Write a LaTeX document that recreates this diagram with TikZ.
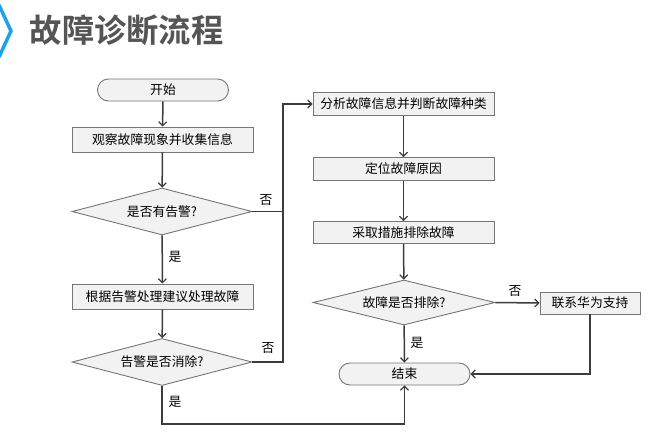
\documentclass[tikz,border=0pt]{standalone}
\usepackage{fontspec}
\newfontfamily\cjk{Noto Sans CJK SC}
\newfontfamily\cjkbold{Noto Sans CJK SC Bold}
\usetikzlibrary{shapes.geometric,shapes.misc,arrows.meta}
\definecolor{boxfill}{HTML}{F2F2F2}
\definecolor{boxline}{HTML}{767676}
\definecolor{conn}{HTML}{3C3C3C}
\definecolor{titleblue}{HTML}{1AA3E8}
\definecolor{titlegray}{HTML}{555555}
\begin{document}
\begin{tikzpicture}[x=1pt,y=-1pt,
  every node/.style={font=\cjk\fontsize{12.8}{14}\selectfont, text=black},
  procbox/.style={rectangle, draw=boxline, fill=boxfill, line width=0.9pt, inner sep=0pt, minimum width=181pt, minimum height=25pt},
  decbox/.style={diamond, draw=boxline, fill=boxfill, line width=0.9pt, inner sep=0pt, aspect=3.8, minimum width=180pt, minimum height=47pt},
  termbox/.style={rounded rectangle, draw=boxline, fill=boxfill, line width=0.9pt, inner sep=0pt, minimum width=131pt, minimum height=22pt},
  lbl/.style={inner sep=0pt},
  conline/.style={draw=conn, line width=1.5pt},
  arr/.style={conline, -{Straight Barb[length=4pt,width=8pt,line width=1.2pt]}}
]
\useasboundingbox (0,0) rectangle (647,445);
% title
\draw[titleblue, line width=3.5pt] (-1,5) -- (11,31) -- (-1,57);
\node[anchor=west, inner sep=0pt, text=titlegray, font=\cjkbold\fontsize{32.3}{34}\selectfont] (title) at (29.5,30) {故障诊断流程};

% nodes
\node[termbox] (start) at (163,90) {开始};
\node[procbox] (b1) at (162.5,139.5) {观察故障现象并收集信息};
\node[decbox] (d1) at (162,211.5) {是否有告警?};
\node[procbox] (b2) at (162.5,296.5) {根据告警处理建议处理故障};
\node[decbox] (d2) at (162,362) {告警是否消除?};

\node[procbox, minimum height=23pt] (b3) at (403.5,104) {分析故障信息并判断故障种类};
\node[procbox, minimum height=23pt] (b4) at (403.5,169) {定位故障原因};
\node[procbox, minimum height=22pt] (b5) at (403.5,232.5) {采取措施排除故障};
\node[decbox, minimum width=182pt, minimum height=45pt] (d3) at (404,302.5) {故障是否排除?};
\node[procbox, minimum width=100pt, minimum height=22pt] (b6) at (590,303) {联系华为支持};
\node[termbox] (end) at (404.5,374) {结束};

\coordinate (jn) at (283,211.5);
\coordinate (bot) at (162,424);

% connectors
\draw[arr] (start) -- (b1);
\draw[arr] (b1) -- (d1);
\draw[arr] (d1) -- (b2);
\draw[arr] (b2) -- (d2);
\draw[arr] (d1.east) -- (jn) |- (b3.west);
\draw[conline] (d2.east) -| (jn);
\draw[arr] (d2.south) -- (bot) -| (end.south);
\draw[arr] (b3) -- (b4);
\draw[arr] (b4) -- (b5);
\draw[arr] (b5) -- (d3);
\draw[arr] (d3) -- (end);
\draw[arr] (d3.east) -- (b6.west);
\draw[arr] (b6.south) |- (end.east);

% labels
\node[lbl] (l1) at (175,257) {是};
\node[lbl] (l2) at (266,200) {否};
\node[lbl] (l3) at (268,348) {否};
\node[lbl] (l4) at (175,402) {是};
\node[lbl] (l5) at (417,343) {是};
\node[lbl] (l6) at (515,291) {否};
\end{tikzpicture}
\end{document}
